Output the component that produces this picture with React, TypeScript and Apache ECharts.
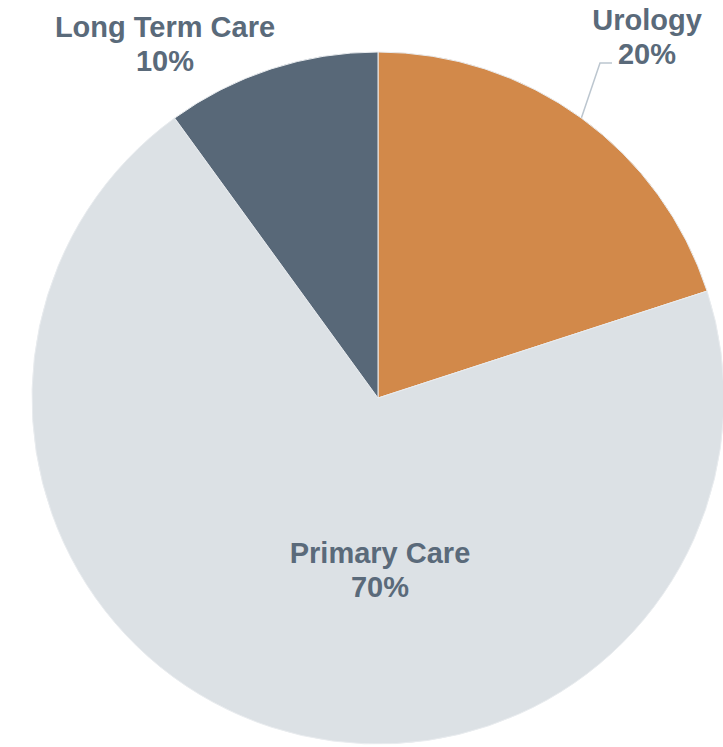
import React, { useEffect, useRef } from "react";
import * as echarts from "echarts";

const categories = ["Urology", "Primary Care", "Long Term Care"];
const values = [20, 70, 10];
const colors = ["#D2894A", "#DCE1E5", "#586878"];

// label block centres (layout only)
const labelPos: [number, number][] = [
  [647, 37],
  [380, 570],
  [165, 44],
];

const CX = 378;
const CY = 398;
const R = 346;

export default function App() {
  const ref = useRef<HTMLDivElement>(null);
  useEffect(() => {
    document.body.style.margin = "0";
    if (!ref.current) return;
    const chart = echarts.init(ref.current, undefined, { renderer: "svg" });
    const total = values.reduce((a, b) => a + b, 0);
    chart.setOption({
      animation: false,
      backgroundColor: "#ffffff",
      series: [
        {
          type: "pie",
          center: [CX, CY],
          radius: [0, R],
          startAngle: 90,
          clockwise: true,
          silent: true,
          itemStyle: { borderColor: "#E9ECEF", borderWidth: 1 },
          label: {
            show: true,
            position: "outside",
            overflow: "none",
            edgeDistance: 0,
            formatter: (p: any) => `${p.name}\n${Math.round(p.percent)}%`,
            fontFamily: "Liberation Sans, Arial, sans-serif",
            fontWeight: "bold",
            fontSize: 29,
            lineHeight: 34,
            color: "#5A6A7A",
            align: "center",
          },
          labelLine: {
            show: true,
            length: 30,
            length2: 12,
            smooth: false,
            lineStyle: { color: "#BCC6CF", width: 1.5 },
          },
          labelLayout: (params: any) => {
            const i = params.dataIndex;
            const [x, y] = labelPos[i];
            const out: any = { x, y, align: "center", verticalAlign: "middle" };
            if (i === 0) {
              let start = params.labelLinePoints && params.labelLinePoints[0];
              if (!start) {
                const mid = ((values[0] / total) * 360) / 2;
                const a = (mid * Math.PI) / 180;
                start = [CX + R * Math.sin(a), CY - R * Math.cos(a)];
              }
              const end = [x - 35, y + 26];
              const elbow = [end[0] - 12, end[1]];
              out.labelLinePoints = [start, elbow, end];
            }
            return out;
          },
          data: categories.map((name, i) => ({
            name,
            value: values[i],
            itemStyle: { color: colors[i] },
            label: i === 1 ? { position: "inside" } : undefined,
            labelLine: i === 0 ? undefined : { show: false },
          })),
        },
      ],
    });
    return () => chart.dispose();
  }, []);
  return <div ref={ref} style={{ width: 723, height: 747 }} />;
}
